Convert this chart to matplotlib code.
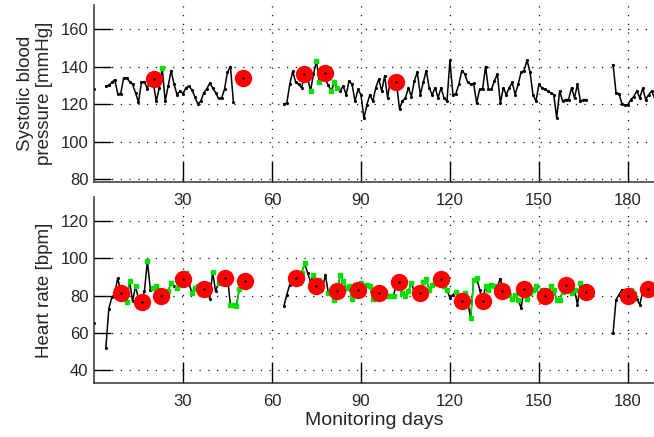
import numpy as np
import matplotlib
matplotlib.use('Agg')
import matplotlib.pyplot as plt

nan = np.nan

# daily systolic blood pressure [mmHg], day 0..189 (nan = no measurement)
sbp = [128, nan, nan, nan, 129.5, 130, 131.5, 133, 125.5, 125.5,
       134, 134, 132, 130.5, 126, 121, 131.5, 132, 128, 134.5,
       131, 121.5, 128.7, 139, 121.5, 129.6, 137.8, 130.5, 125, 127,
       125.5, 128.7, 129.6, 127.5, 124, 120, 121.5, 126, 128, 131,
       128.7, 126, 123, 123, 128, 137, 140, 121, nan, nan,
       nan, nan, nan, nan, nan, nan, nan, nan, nan, nan,
       nan, nan, nan, nan, 120, 120.5, 130.5, 137.5, 131.5, 130.5,
       128.7, 135.6, 134, 127, 136, 143, 131.5, 136, 133, 130,
       127, 131.5, 128.4, 127, 129.6, 125, 132.4, 130.5, 121.5, 127.8,
       125, 112.3, 119.6, 125, 121.5, 128.7, 133.3, 127, 135, 123.3,
       134, 132, 131, 117.4, 121.5, 123.3, 128.7, 124, 132.4, 137,
       125, 131.5, 137.8, 128.7, 125, 128.7, 123.3, 128.7, 123.3, 121.5,
       143.3, 125, 125.5, 130.5, 137.8, 136, 131.5, 130.5, 131, 120.5,
       127.8, 127.8, 140, 127.8, 127.8, 132.4, 136, 120.5, 128.7, 125,
       128.7, 131.5, 125, 130.5, 137, 137.8, 143.3, 137, 125, 121.5,
       130.5, 128.7, 127.8, 127, 126, 125, 112.7, 127, 121.5, 122.4,
       122.4, 128.7, 123.3, 130.5, 121.5, 122.4, 122.4, nan, nan, nan,
       nan, nan, nan, nan, nan, 141, 126, 125.5, 120, 119.6,
       119.6, 122.4, 124, 127, 123.3, 128.4, 122.4, 125, 127, 123]

# daily heart rate [bpm], day 0..189
hr = [65, nan, nan, nan, 52, 73, 79, 81, 89.5, 82,
      78.7, 76.4, 87.7, 77, 85, 78.2, 76, 82.3, 98.5, 83.2,
      84.1, 85, 82, 79.6, 80.5, 82.3, 86.8, 85, 84.1, 90.8,
      89, 92.2, 86.8, 81.4, 84.1, 85, 82, 83, 86, 78.2,
      92.6, 82.3, 86.8, 88, 89.5, 89.5, 75.1, 75, 74.2, 83.6,
      nan, nan, nan, nan, nan, nan, nan, nan, nan, nan,
      nan, nan, nan, nan, 74.2, 80.5, 85.9, 86.5, 89.5, 86.8,
      92.2, 97.3, 92.2, 87.2, 91.3, 85, 88.6, 83.2, 91.3, 81.4,
      82, 77.8, 82, 91.3, 87.7, 84.1, 85, 78.2, 85.9, 83.2,
      86.8, 85, 85.9, 85, 78.2, 83.2, 81.4, 83.2, 81.8, 79.6,
      80, 80, 87, 87.2, 81.4, 79.6, 82.3, 86.8, 81.8, 82,
      81.4, 87.2, 89, 83.2, 85.9, 86.8, 87, 89, 85, 83.2,
      78.7, 80.5, 82, 80, 77.5, 81.4, 76, 68, 88.6, 89.5,
      83.2, 77, 85, 83.2, 85.9, 85, 85, 89, 82.3, 84.1,
      80.5, 78.2, 80.5, 77.8, 73.3, 83.6, 78.2, 81.4, 83.2, 85,
      79.6, 83.2, 80, 78.7, 85, 83.2, 77.5, 77.8, 82, 85.9,
      85, 81.4, 83.2, 75.1, 86.8, 84, 82, nan, nan, nan,
      nan, nan, nan, nan, nan, 59.8, 77.8, 80.5, 83.2, 80,
      80, 83, 81, 78.2, 75.1, 82, 84, 83.6, 83, 84]

# days with a green (validated) point
sbp_green_days = [23, 73, 75, 76, 80, 81, 82]
hr_black_only = [0, 4, 5, 6, 7, 8, 9, 13, 15, 16, 17, 19, 22, 23, 27, 32, 39, 41,
                 43, 44, 45, 64, 65, 66, 67, 72, 73, 77, 78, 102, 103, 108, 120,
                 121, 126, 130, 131, 137, 138, 144, 153, 163, 175, 176, 177, 178,
                 183, 184]

# weekly means (red circles)
sbp_week_days = [20.2, 50.2, 70.7, 77.8, 101.9]
sbp_week = [133.5, 134, 136, 136.4, 131.5]
hr_week_days = [9.1, 16.2, 22.7, 30, 37, 44.1, 51, 68, 74.7, 81.9, 89, 96.1,
                102.7, 109.8, 117.1, 124, 131.1, 137.7, 145, 152, 159.2, 165.8,
                180, 186.9]
hr_week = [81.4, 76.4, 79.6, 89, 83.6, 89.5, 87.7, 89.5, 85, 82.3, 83.2, 81.4,
           87.2, 81.4, 89, 77.3, 77, 82.3, 83.6, 80, 85.9, 81.8, 80, 83.6]

xticks = [30, 60, 90, 120, 150, 180]

days = np.arange(len(sbp))
sbp = np.array(sbp, dtype=float)
hr = np.array(hr, dtype=float)
hr_green = hr.copy()
hr_green[hr_black_only] = nan

plt.rcParams['font.family'] = ['Liberation Sans', 'DejaVu Sans']

W, H = 654, 437
fig = plt.figure(figsize=(W / 100, H / 100), dpi=100)
ax1 = fig.add_axes([94 / W, 1 - 181.7 / H, 560 / W, (181.7 - 5) / H])
ax2 = fig.add_axes([94 / W, 1 - 383.3 / H, 560 / W, (383.3 - 197) / H])
ax2.set_facecolor('none')


def style(ax, ylim, yticks):
    ax.set_xlim(0, 188.8)
    ax.set_ylim(*ylim)
    ax.set_xticks(xticks)
    ax.set_yticks(yticks)
    ax.spines['top'].set_visible(False)
    ax.spines['right'].set_visible(False)
    for s in ['left', 'bottom']:
        ax.spines[s].set_linewidth(1.1)
        ax.spines[s].set_color('#333333')
    ax.tick_params(axis='x', direction='in', length=15, width=1, pad=8,
                   labelsize=12, labelcolor='#262626')
    ax.tick_params(axis='y', direction='in', length=12.5, width=1, pad=4,
                   labelsize=12, labelcolor='#262626')
    ax.grid(True, color='#111111', linestyle=(0, (1, 6)), linewidth=0.9)
    ax.set_axisbelow(True)


def draw(ax, y, green_x, green_y, green_ls, week_x, week_y):
    ax.plot(days, y, color='k', lw=1.1, marker='.', ms=2.5)
    ax.plot(green_x, green_y, color='#00e000', ls=green_ls, lw=1.0,
            marker='s', ms=2.5)
    ax.plot(week_x, week_y, ls='none', marker='o', ms=12.5, color='red',
            mew=0)
    ax.plot(week_x, week_y, ls='none', marker='.', ms=1.5, color='k')


style(ax1, (78.6, 172.8), [80, 100, 120, 140, 160])
draw(ax1, sbp, sbp_green_days, sbp[sbp_green_days], 'none',
     sbp_week_days, sbp_week)
ax1.set_ylabel('Systolic blood\npressure [mmHg]', fontsize=13.5,
               color='#262626', linespacing=1.1)
ax1.yaxis.set_label_coords(-0.074, 0.5)

style(ax2, (32.9, 132.9), [40, 60, 80, 100, 120])
draw(ax2, hr, days, hr_green, '-', hr_week_days, hr_week)
ax2.set_ylabel('Heart rate [bpm]', fontsize=13.5, color='#262626')
ax2.yaxis.set_label_coords(-0.074, 0.5)
ax2.set_xlabel('Monitoring days', fontsize=14, color='#262626', labelpad=2)

fig.savefig('out.png', dpi=100)
